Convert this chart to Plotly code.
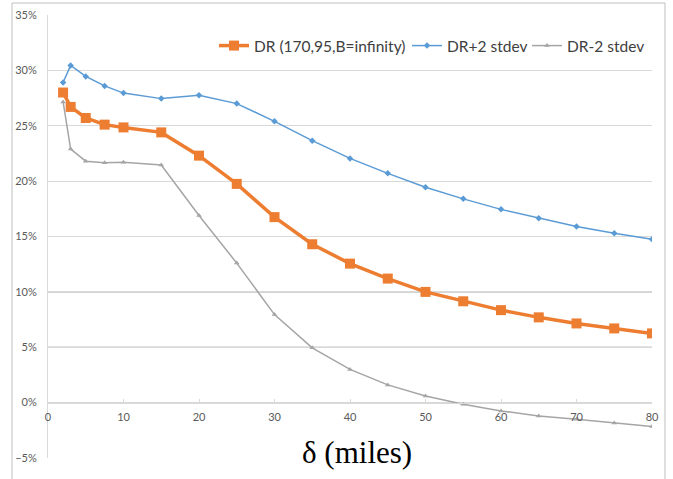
import plotly.graph_objects as go

x_miles = [2, 3, 5, 7.5, 10, 15, 20, 25, 30, 35, 40, 45, 50, 55, 60, 65, 70, 75, 80]
dr = [28.0, 26.7, 25.7, 25.1, 24.85, 24.4, 22.3, 19.75, 16.75, 14.3, 12.55, 11.2, 10.0, 9.15, 8.35, 7.7, 7.15, 6.7, 6.25]
dr_plus = [28.9, 30.45, 29.45, 28.6, 27.95, 27.45, 27.75, 27.0, 25.4, 23.65, 22.05, 20.7, 19.45, 18.4, 17.45, 16.65, 15.9, 15.3, 14.75]
dr_minus = [27.15, 22.9, 21.8, 21.65, 21.7, 21.45, 16.9, 12.6, 7.95, 4.95, 3.0, 1.6, 0.6, -0.15, -0.75, -1.2, -1.5, -1.85, -2.15]

names = ["DR (170,95,B=infinity)", "DR+2 stdev", "DR-2 stdev"]
y_ticks = [-0.05, 0, 0.05, 0.10, 0.15, 0.20, 0.25, 0.30, 0.35]
x_ticks = [0, 10, 20, 30, 40, 50, 60, 70, 80]
dark_grid = [0.05, 0.10]

# plot-area pixel geometry
L, R, T, B = 48, 652, 15, 458
W, H = R - L, B - T

def px_x(p):
    return (p - L) / W

def px_y(p):
    return (B - p) / H

def frac(v):
    return [a / 100 for a in v]

fig = go.Figure()
fig.add_trace(go.Scatter(x=x_miles, y=frac(dr), name=names[0], mode="lines+markers",
                         line=dict(color="#ED7D31", width=3.5),
                         marker=dict(symbol="square", size=10, color="#ED7D31"),
                         legend="legend"))
fig.add_trace(go.Scatter(x=x_miles, y=frac(dr_plus), name=names[1], mode="lines+markers",
                         line=dict(color="#5B9BD5", width=1.5),
                         marker=dict(symbol="diamond", size=5, color="#5B9BD5"),
                         legend="legend2"))
fig.add_trace(go.Scatter(x=x_miles, y=frac(dr_minus), name=names[2], mode="lines+markers",
                         line=dict(color="#A5A5A5", width=1.5),
                         marker=dict(symbol="triangle-up", size=5, color="#A5A5A5"),
                         legend="legend3"))

for g in dark_grid:
    fig.add_shape(type="line", xref="paper", yref="y", x0=0, x1=1, y0=g, y1=g,
                  line=dict(color="#8C8C8C", width=1), layer="below")

# outer chart border
fig.add_shape(type="rect", xref="paper", yref="paper",
              x0=px_x(12), x1=px_x(665), y0=-0.2, y1=px_y(3),
              line=dict(color="#BFBFBF", width=1))

fig.add_annotation(text="δ (miles)", xref="paper", yref="paper",
                   x=px_x(357), y=px_y(452), xanchor="center", yanchor="middle",
                   showarrow=False, bgcolor="white",
                   font=dict(family="Liberation Serif", size=31, color="black"))

def leg(text_start_px):
    return dict(orientation="h", x=px_x(text_start_px - 40), xanchor="left",
                y=px_y(46), yanchor="middle",
                font=dict(size=15.5, color="#404040"), bgcolor="rgba(0,0,0,0)",
                itemwidth=30, borderwidth=0)

fig.update_layout(
    template="none",
    width=673, height=479,
    margin=dict(l=L, r=673 - R, t=T, b=479 - B, autoexpand=False),
    paper_bgcolor="white", plot_bgcolor="white",
    font=dict(family="Lato, Open Sans, sans-serif", color="#595959"),
    showlegend=True,
    legend=leg(254),
    legend2=leg(447),
    legend3=leg(567),
    xaxis=dict(range=[0, 80], tickvals=x_ticks, ticktext=[str(t) for t in x_ticks],
               showgrid=False, zeroline=False, showline=True, linecolor="#D9D9D9",
               ticks="inside", ticklen=4, tickcolor="#D9D9D9",
               anchor="free", position=0.125, automargin=False,
               ticklabelstandoff=4,
               tickfont=dict(size=11, color="#595959")),
    yaxis=dict(range=[-0.05, 0.35], tickvals=y_ticks, tickformat=".0%",
               showgrid=True, gridcolor="#D9D9D9", gridwidth=1,
               zeroline=False, showline=True, linecolor="#D9D9D9",
               ticks="", ticklabelstandoff=8, automargin=False,
               tickfont=dict(size=11, color="#595959")),
)

fig.write_html("out.html", config={"displayModeBar": False},
               post_script="document.body.style.margin='0';document.body.style.padding='0';")
